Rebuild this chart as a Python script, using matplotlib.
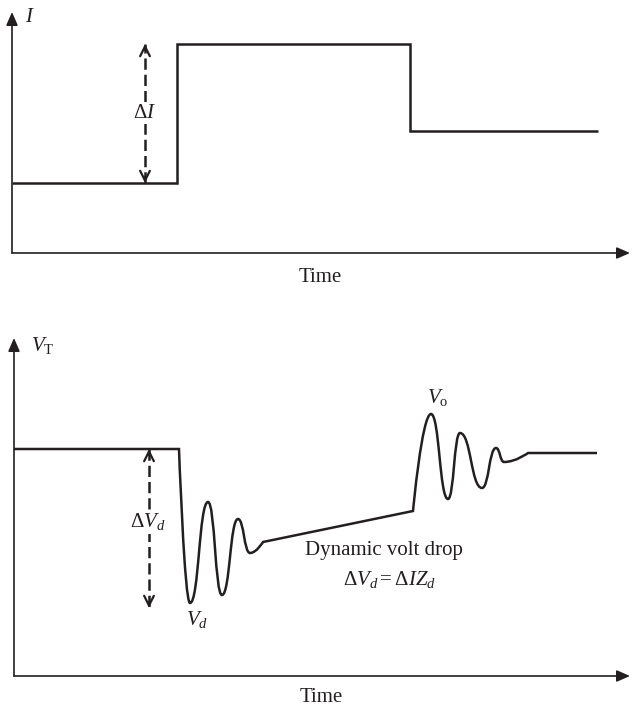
import matplotlib
matplotlib.use("Agg")
import matplotlib.pyplot as plt
from matplotlib.path import Path
from matplotlib.patches import PathPatch

# top panel: current step (time, level), arbitrary units
i_time = [0, 165, 398, 586]
i_level = [70, 209, 122, 122]
delta_i_at = 133

# bottom panel: terminal voltage, key points of the sketch
vt_time = [0, 165, 176, 194, 208, 224, 236, 249, 399, 417, 434, 446, 468, 482, 490, 514, 583]
vt_value = [227, 227, 73, 174, 81, 157, 123, 134, 165, 262, 177, 243, 188, 228, 214, 223, 223]
vt_smooth = [False, False, True, True, True, True, True, False,
             False, True, True, True, True, True, True, False, False]
delta_v_at = 135
delta_v_low = 68

INK = "#231f20"

plt.rcParams["font.family"] = "Liberation Serif"
plt.rcParams["mathtext.fontset"] = "custom"
plt.rcParams["mathtext.rm"] = "Liberation Serif"
plt.rcParams["mathtext.it"] = "Liberation Serif:italic"

fig = plt.figure(figsize=(6.32, 7.07), dpi=100)
ax1 = fig.add_axes([12 / 632, 1 - 253 / 707, 618 / 632, 241 / 707])
ax2 = fig.add_axes([14 / 632, 1 - 676 / 707, 616 / 632, 338 / 707])

for ax, xmax, ymax in ((ax1, 618, 241), (ax2, 616, 338)):
    ax.set_xlim(0, xmax)
    ax.set_ylim(0, ymax)
    ax.axis("off")
    arrow = dict(arrowstyle="-|>,head_length=0.8,head_width=0.35", lw=1.2,
                 color=INK, mutation_scale=10, shrinkA=0, shrinkB=0)
    ax.annotate("", xy=(xmax, 0), xytext=(0, 0), arrowprops=arrow, annotation_clip=False)
    ax.annotate("", xy=(0, ymax), xytext=(0, 0), arrowprops=arrow, annotation_clip=False)


def delta_arrow(ax, x, y0, y1):
    # dashed double arrow, open heads pointing outwards
    ax.plot([x, x], [y0, y1], color=INK, lw=1.8, dashes=(4.5, 2))
    head = dict(arrowstyle="->,head_length=0.7,head_width=0.35", lw=1.6,
                color=INK, mutation_scale=10, shrinkA=0, shrinkB=0)
    s = 1 if y1 > y0 else -1
    ax.annotate("", xy=(x, y1), xytext=(x, y1 - 6 * s), arrowprops=head)
    ax.annotate("", xy=(x, y0), xytext=(x, y0 + 6 * s), arrowprops=head)


# --- top: current
ax1.step(i_time, i_level, where="post", color=INK, lw=1.8,
         solid_joinstyle="miter", solid_capstyle="butt")
delta_arrow(ax1, delta_i_at, i_level[0], i_level[1])
ax1.text(delta_i_at, 140, r"$\Delta I$", fontsize=15, color=INK, ha="center", va="center",
         bbox=dict(fc="white", ec="none", pad=1))
ax1.text(18, 236, r"$I$", fontsize=15, color=INK, ha="center", va="center")
ax1.text(308, -24, "Time", fontsize=15, color=INK, ha="center", va="center")

# --- bottom: voltage, smooth between extrema
verts = [(vt_time[0], vt_value[0])]
codes = [Path.MOVETO]
k = 0.5
for j in range(len(vt_time) - 1):
    x0, y0, x1, y1 = vt_time[j], vt_value[j], vt_time[j + 1], vt_value[j + 1]
    if not vt_smooth[j] and not vt_smooth[j + 1]:
        verts.append((x1, y1))
        codes.append(Path.LINETO)
        continue
    dx = x1 - x0
    c1 = (x0 + k * dx, y0) if vt_smooth[j] else (x0, y0)
    c2 = (x1 - k * dx, y1) if vt_smooth[j + 1] else (x1, y1)
    verts += [c1, c2, (x1, y1)]
    codes += [Path.CURVE4] * 3
ax2.add_patch(PathPatch(Path(verts, codes), fc="none", ec=INK, lw=1.8, joinstyle="miter"))

delta_arrow(ax2, delta_v_at, vt_value[0], delta_v_low)
ax2.text(delta_v_at - 1, 154, r"$\Delta V_d$", fontsize=15, color=INK, ha="center", va="center",
         bbox=dict(fc="white", ec="none", pad=1))
ax2.text(183, 56, r"$V_d$", fontsize=15, color=INK, ha="center", va="center")
ax2.text(424, 278, r"$V_{\mathrm{o}}$", fontsize=15, color=INK, ha="center", va="center")
ax2.text(29, 331, r"$V_{\mathrm{T}}$", fontsize=15, color=INK, ha="center", va="center")
ax2.text(370, 126, "Dynamic volt drop", fontsize=15, color=INK, ha="center", va="center")
ax2.text(376, 96, r"$\Delta V_d = \Delta I Z_d$", fontsize=15, color=INK, ha="center", va="center")
ax2.text(307, -22, "Time", fontsize=15, color=INK, ha="center", va="center")

fig.savefig("out.png", dpi=100)
